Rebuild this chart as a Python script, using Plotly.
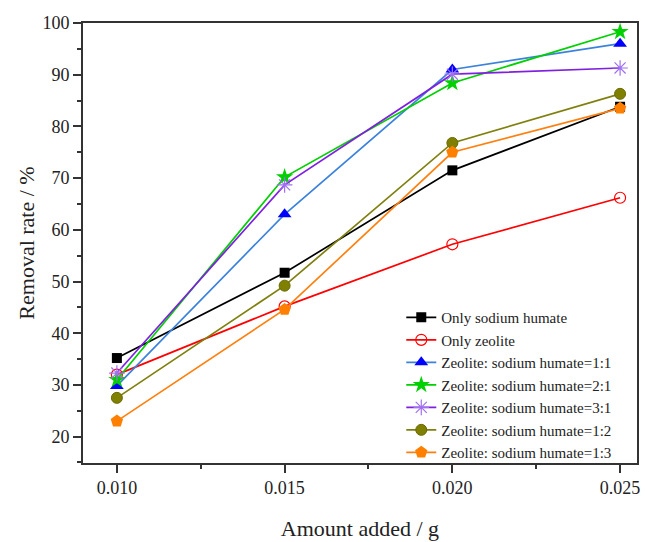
import plotly.graph_objects as go

amount = [0.010, 0.015, 0.020, 0.025]
only_humate = [35.2, 51.7, 71.5, 83.8]
only_zeolite = [32.0, 45.2, 57.2, 66.2]
ratio_1_1 = [29.8, 63.0, 91.0, 96.0]
ratio_2_1 = [31.0, 70.2, 88.4, 98.3]
ratio_3_1 = [32.3, 68.7, 90.1, 91.3]
ratio_1_2 = [27.5, 49.2, 76.8, 86.3]
ratio_1_3 = [23.0, 44.6, 75.0, 83.5]

series = [
    ("Only sodium humate", only_humate, "#000000", dict(symbol="square", size=10, color="#000000")),
    ("Only zeolite", only_zeolite, "#FF0000", dict(symbol="circle-open", size=11, color="#FF0000", line=dict(width=1.2, color="#FF0000"))),
    ("Zeolite: sodium humate=1:1", ratio_1_1, "#3C82DC", dict(symbol="triangle-up", size=12, color="#0000FF")),
    ("Zeolite: sodium humate=2:1", ratio_2_1, "#00D000", dict(symbol="star", size=13, color="#00D000")),
    ("Zeolite: sodium humate=3:1", ratio_3_1, "#7F1FE0", dict(symbol="asterisk-open", size=13, color="#A070F0", line=dict(width=1.2, color="#A070F0"))),
    ("Zeolite: sodium humate=1:2", ratio_1_2, "#808010", dict(symbol="circle", size=11, color="#808000", line=dict(width=1, color="#6A6A00"))),
    ("Zeolite: sodium humate=1:3", ratio_1_3, "#FF8010", dict(symbol="pentagon", size=13, color="#FF8000")),
]

fig = go.Figure()
for name, ys, lc, mk in series:
    fig.add_trace(go.Scatter(x=amount, y=ys, name=name, mode="lines+markers",
                             line=dict(color=lc, width=1.7), marker=mk))

font = "Liberation Serif"
fig.update_layout(
    width=645, height=542,
    margin=dict(l=83, r=5, t=23, b=69),
    paper_bgcolor="white", plot_bgcolor="white",
    font=dict(family=font, color="#222222", size=18),
    showlegend=True,
    legend=dict(x=0.5745, y=0.368, xanchor="left", yanchor="top",
                bgcolor="rgba(0,0,0,0)", font=dict(size=15, family=font, color="#222222"),
                tracegroupgap=0, itemwidth=30),
)
fig.update_xaxes(
    range=[0.00899, 0.025504], tickvals=amount, ticktext=["0.010", "0.015", "0.020", "0.025"],
    showline=True, linecolor="#333333", linewidth=1.6, mirror=True,
    ticks="outside", ticklen=8, tickwidth=1.6, tickcolor="#333333",
    minor=dict(ticks="outside", dtick=0.0025, tick0=0.010, ticklen=4, tickwidth=1.6, tickcolor="#333333"),
    showgrid=False, zeroline=False,
    title=dict(text="Amount added / g", font=dict(size=22, family=font), standoff=23),
    tickfont=dict(size=18, family=font),
)
fig.update_yaxes(
    range=[14.9, 100.0], tickvals=[20, 30, 40, 50, 60, 70, 80, 90, 100],
    showline=True, linecolor="#333333", linewidth=1.6, mirror=True,
    ticks="outside", ticklen=8, tickwidth=1.6, tickcolor="#333333",
    minor=dict(ticks="outside", dtick=5, tick0=15, ticklen=4, tickwidth=1.6, tickcolor="#333333"),
    showgrid=False, zeroline=False,
    title=dict(text="Removal rate / %", font=dict(size=22, family=font), standoff=2),
    tickfont=dict(size=18, family=font),
)

fig.write_html("out.html", config={"displayModeBar": False},
               post_script="document.body.style.margin='0';document.body.style.overflow='hidden';")
